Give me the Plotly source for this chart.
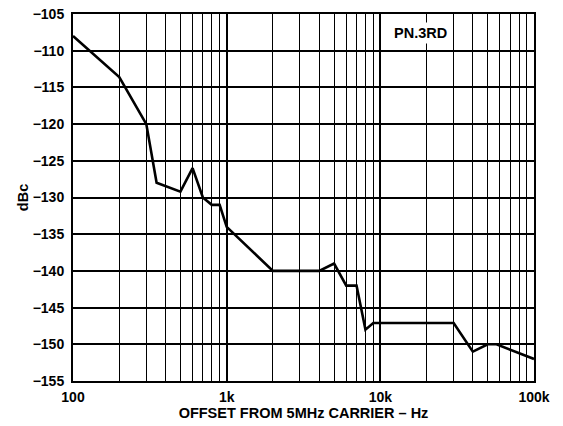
import plotly.graph_objects as go

offset_hz = [100, 200, 300, 350, 500, 600, 700, 800, 900, 1000, 2000, 4000,
             5000, 6000, 7000, 8000, 9000, 30000, 40000, 50000, 57000, 100000]
phase_noise_dbc = [-108, -113.6, -120, -128, -129.2, -126, -130, -131, -131, -134,
                   -140, -140, -139, -142, -142, -148, -147.1, -147.1, -151, -150,
                   -150, -152]

x_tickvals = [100, 1000, 10000, 100000]
x_ticktext = ["100", "1k", "10k", "100k"]
y_tickvals = list(range(-155, -104, 5))
y_ticktext = [str(v).replace("-", "\u2212") for v in y_tickvals]

minor_vals = [m * 10 ** d for d in range(2, 5) for m in range(2, 10)]

font = dict(family="Liberation Sans, Arial, sans-serif", size=14, color="black", weight="bold")
title_font = dict(font, size=14.5)

fig = go.Figure()
fig.add_trace(go.Scatter(x=offset_hz, y=phase_noise_dbc, mode="lines",
                         line=dict(color="black", width=2.6), showlegend=False))

fig.update_layout(
    width=563, height=426,
    margin=dict(l=73, r=29, t=14, b=45, autoexpand=False),
    plot_bgcolor="white", paper_bgcolor="white",
    font=font,
)
fig.update_xaxes(
    type="log", range=[2, 5], automargin=False,
    tickvals=x_tickvals, ticktext=x_ticktext, ticks="", ticklabelstandoff=2,
    showgrid=True, gridcolor="black", gridwidth=1.5,
    minor=dict(tickvals=minor_vals, showgrid=True, gridcolor="black", gridwidth=1, ticks=""),
    showline=True, linecolor="black", linewidth=2, mirror=True,
    title=dict(text="OFFSET FROM 5MHz CARRIER \u2013 Hz", standoff=2, font=title_font),
    tickfont=font, zeroline=False,
)
fig.update_yaxes(
    range=[-155, -105], automargin=False,
    tickvals=y_tickvals, ticktext=y_ticktext, ticks="", ticklabelstandoff=4,
    showgrid=True, gridcolor="black", gridwidth=1.5,
    showline=True, linecolor="black", linewidth=2, mirror=True,
    title=dict(text="dBc", standoff=1, font=title_font),
    tickfont=font, zeroline=False,
)
fig.add_annotation(x=0.753, y=0.948, xref="paper", yref="paper", text="PN.3RD",
                   xanchor="center", yanchor="middle",
                   showarrow=False, bgcolor="white", font=title_font, borderpad=2)

# page body has a default margin; drop it so the figure sits at the window corner
fig.write_html("out.html", config={"displayModeBar": False},
               post_script="document.body.style.margin='0';")
